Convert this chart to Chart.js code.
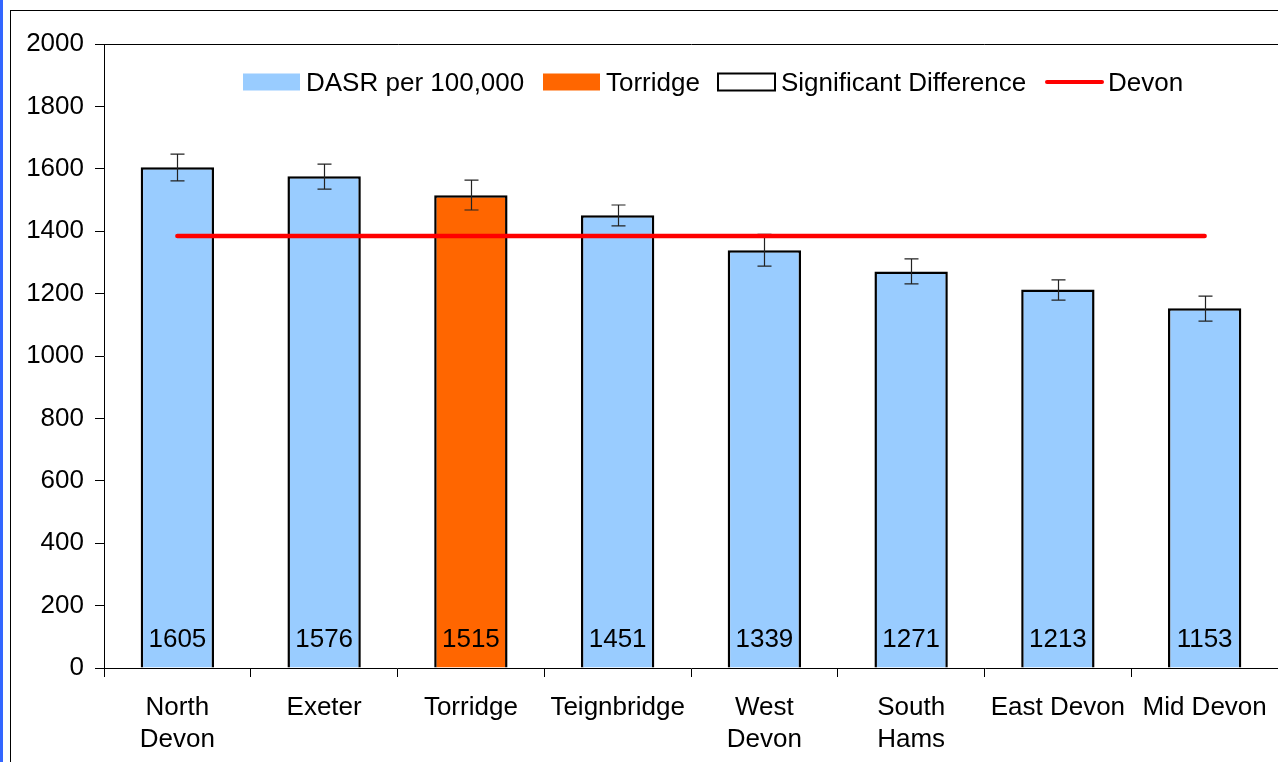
<!DOCTYPE html>
<html><head><meta charset="utf-8">
<script src="https://cdn.jsdelivr.net/npm/chart.js@4.4.1/dist/chart.umd.min.js"></script>
<style>
html,body{margin:0;padding:0;background:#fff;overflow:hidden;width:1278px;height:762px;}
#blue{position:absolute;left:0;top:0;width:3px;height:762px;background:#3366ff;}
#frame{position:absolute;left:10px;top:10px;width:2000px;height:2000px;border-left:1.5px solid #000;border-top:1.5px solid #000;}
#wrap{position:absolute;left:0;top:0;width:1278px;height:762px;}
</style></head>
<body>
<div id="blue"></div><div id="frame"></div>
<div id="wrap"><canvas id="c" width="1278" height="762"></canvas></div>
<script>
const categories = [["North","Devon"],"Exeter","Torridge","Teignbridge",["West","Devon"],["South","Hams"],"East Devon","Mid Devon"];
const dasrValues = [1605,1576,1515,1451,1339,1271,1213,1153];
const errLow  = [1561,1535,1468,1417,1288,1231,1179,1112];
const errHigh = [1647,1615,1564,1484,1390,1311,1244,1192];
const devonValues = [1385,1385,1385,1385,1385,1385,1385,1385];
const highlight = "Torridge";
const yTicks = [0,200,400,600,800,1000,1200,1400,1600,1800,2000];
const legendLabels = ["DASR per 100,000","Torridge","Significant Difference","Devon"];

const FONT = '"Liberation Sans", Arial, sans-serif';
const FS = 26;
const BLUE = '#99ccff', ORANGE = '#ff6600';
const barColors = categories.map(c => (Array.isArray(c)?c.join(' '):c) === highlight ? ORANGE : BLUE);

const errorBars = {
  id:'errorBars',
  afterDatasetDraw(chart,args){
    if(args.index!==0) return;
    const ctx=chart.ctx, meta=chart.getDatasetMeta(0), y=chart.scales.y;
    ctx.save(); ctx.strokeStyle='#222'; ctx.lineWidth=1.2;
    meta.data.forEach((bar,i)=>{
      const x=Math.round(bar.x)+0.5, y1=y.getPixelForValue(errHigh[i]), y2=y.getPixelForValue(errLow[i]);
      ctx.beginPath();
      ctx.moveTo(x,y1);ctx.lineTo(x,y2);
      ctx.moveTo(x-7,y1);ctx.lineTo(x+7,y1);
      ctx.moveTo(x-7,y2);ctx.lineTo(x+7,y2);
      ctx.stroke();
    });
    ctx.restore();
  }
};
const valueLabels = {
  id:'valueLabels',
  afterDatasetsDraw(chart){
    const ctx=chart.ctx, meta=chart.getDatasetMeta(0), y=chart.scales.y;
    ctx.save(); ctx.fillStyle='#000'; ctx.font=FS+'px '+FONT; ctx.textAlign='center'; ctx.textBaseline='middle';
    meta.data.forEach((bar,i)=>{ ctx.fillText(String(dasrValues[i]), bar.x, y.getPixelForValue(0)-28); });
    ctx.restore();
  }
};
const customLegend = {
  id:'customLegend',
  afterDraw(chart){
    const ctx=chart.ctx; ctx.save();
    ctx.font=FS+'px '+FONT; ctx.textBaseline='middle'; ctx.fillStyle='#000';
    const yc=82, bw=57, bh=17;
    const items=[{x:243,type:'box',fill:BLUE},{x:543,type:'box',fill:ORANGE},{x:718,type:'box',fill:'#fff'},{x:1045,type:'line'}];
    items.forEach((it,i)=>{
      if(it.type==='box'){
        ctx.fillStyle=it.fill; ctx.fillRect(it.x,yc-bh/2,bw,bh);
        if(it.fill==='#fff'){ctx.strokeStyle='#000';ctx.lineWidth=2;ctx.strokeRect(it.x,yc-bh/2,bw,bh);}
      } else {
        ctx.strokeStyle='#ff0000'; ctx.lineWidth=4; ctx.lineCap='round';
        ctx.beginPath(); ctx.moveTo(it.x+2,yc); ctx.lineTo(it.x+bw,yc); ctx.stroke();
      }
      ctx.fillStyle='#000'; ctx.fillText(legendLabels[i], it.x+bw+6, yc+2);
    });
    ctx.restore();
  }
};

new Chart(document.getElementById('c'),{
  data:{
    labels:categories,
    datasets:[
      {type:'bar',label:legendLabels[0],data:dasrValues,backgroundColor:barColors,borderColor:'#000',borderWidth:2.5,
       barPercentage:0.5,categoryPercentage:1,order:2},
      {type:'line',label:legendLabels[3],data:devonValues,borderColor:'#ff0000',borderWidth:4.5,pointRadius:0,
       borderCapStyle:'round',fill:false,order:1}
    ]
  },
  options:{
    responsive:false,animation:false,
    layout:{padding:{top:44,left:0,right:0,bottom:0}},
    plugins:{legend:{display:false},tooltip:{enabled:false}},
    scales:{
      x:{
        offset:true,
        grid:{offset:true,drawOnChartArea:false,color:'#000',tickColor:'#000',tickLength:9,lineWidth:1},
        border:{color:'#000',width:1},
        ticks:{color:'#000',font:{family:FONT,size:FS,lineHeight:1.22},padding:15,maxRotation:0,autoSkip:false},
        afterFit(s){s.height=762-668;s.paddingLeft=0;s.paddingRight=0;}
      },
      y:{
        min:0,max:2000,
        afterBuildTicks(s){s.ticks=yTicks.map(v=>({value:v}));},
        grid:{drawOnChartArea:true,color:c=>c.tick&&c.tick.value===2000?'#000':'rgba(0,0,0,0)',tickColor:'#000',tickLength:9,lineWidth:1},
        border:{color:'#000',width:1},
        ticks:{color:'#000',font:{family:FONT,size:FS},padding:11,callback:v=>String(v)},
        afterFit(s){s.width=104;s.paddingTop=0;s.paddingBottom=0;}
      }
    }
  },
  plugins:[errorBars,valueLabels,customLegend]
});
</script>
</body></html>
